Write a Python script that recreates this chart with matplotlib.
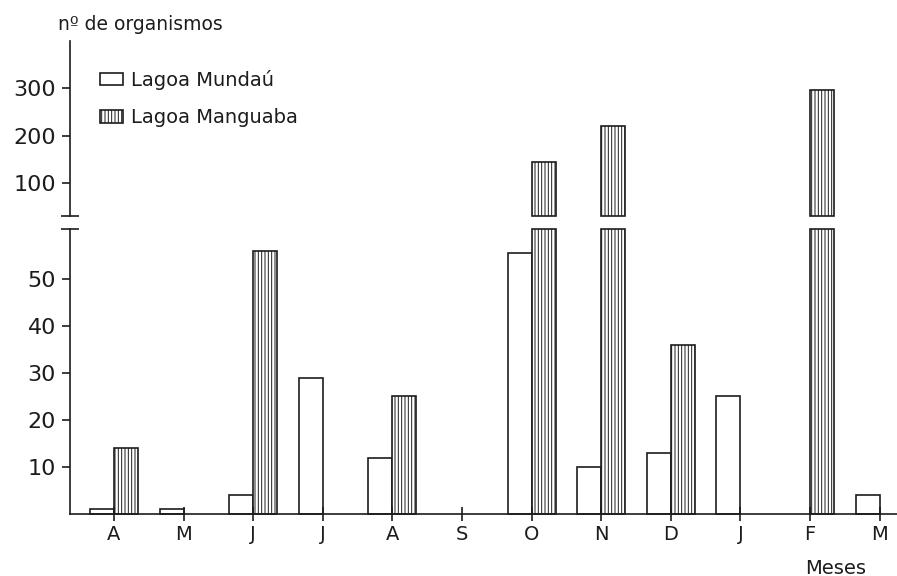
import numpy as np
import matplotlib
matplotlib.use("Agg")
import matplotlib.pyplot as plt

## Data
meses = ["A", "M", "J", "J", "A", "S", "O", "N", "D", "J", "F", "M"]
mundau = [1, 1, 4, 29, 12, 0, 55.5, 10, 13, 25, 0, 4]
manguaba = [14, 0, 56, 0, 25, 0, 145, 220, 36, 0, 295, 0]
ticks_baixo = [10, 20, 30, 40, 50]
ticks_cima = [100, 200, 300]

## Broken axis limits
lim_baixo = (0, 60.6)
lim_cima = (30.5, 399)

INK = "#1c1c1c"
plt.rcParams["hatch.linewidth"] = 0.7
plt.rcParams["hatch.color"] = INK
plt.rcParams["font.family"] = "DejaVu Sans"

W, H = 897, 576
fig = plt.figure(figsize=(W / 100, H / 100), dpi=100)
fig.patch.set_facecolor("white")

def fx(px):
    return px / W

def fy(py):
    return 1 - py / H

ax_lo = fig.add_axes([fx(70), fy(514), fx(897) - fx(70), fy(229) - fy(514)])
ax_hi = fig.add_axes([fx(70), fy(216), fx(897) - fx(70), fy(41) - fy(216)])

x = np.arange(len(meses))
w = 0.345
lw = 1.2

mu = np.array(mundau, dtype=float)
ma = np.array(manguaba, dtype=float)
tem_mu = mu > 0
tem_ma = ma > 0

## Lower part (months with no organisms get no bar)
ax_lo.bar(x[tem_mu] - w, mu[tem_mu], width=w, align="edge", facecolor="white",
          edgecolor=INK, linewidth=lw, label="Lagoa Mundaú", clip_on=False)
ax_lo.bar(x[tem_ma], np.minimum(ma[tem_ma], lim_baixo[1]), width=w,
          align="edge", facecolor="white", edgecolor=INK, linewidth=lw,
          hatch="|||||", label="Lagoa Manguaba", clip_on=False)

## Upper part, only for the values above the break
alto = ma > lim_baixo[1]
ax_hi.bar(x[alto], ma[alto] - lim_cima[0], bottom=lim_cima[0], width=w,
          align="edge", facecolor="white", edgecolor=INK, linewidth=lw,
          hatch="|||||", clip_on=False)

for ax in (ax_lo, ax_hi):
    ax.set_xlim(-0.632, 11.25)
    ax.set_facecolor("none")
    for s in ("top", "right"):
        ax.spines[s].set_visible(False)
    ax.spines["left"].set_color(INK)
    ax.spines["left"].set_linewidth(lw)
    ax.tick_params(axis="y", direction="out", length=6, width=lw,
                   color=INK, labelsize=16, labelcolor=INK, pad=4)

ax_lo.set_ylim(*lim_baixo)
ax_lo.set_yticks(ticks_baixo)
ax_lo.set_xticks(x)
ax_lo.set_xticklabels(meses)
ax_lo.spines["bottom"].set_color(INK)
ax_lo.spines["bottom"].set_linewidth(lw)
ax_lo.tick_params(axis="x", direction="inout", length=10, width=lw,
                  color=INK, labelsize=14, labelcolor=INK, pad=3)

ax_hi.set_ylim(*lim_cima)
ax_hi.set_yticks(ticks_cima)
ax_hi.spines["bottom"].set_visible(False)
ax_hi.set_xticks([])

## Caps at the break
ax_lo.plot([0], [1], marker="_", markersize=13, mew=lw, color=INK,
           transform=ax_lo.transAxes, clip_on=False)
ax_hi.plot([0], [0], marker="_", markersize=13, mew=lw, color=INK,
           transform=ax_hi.transAxes, clip_on=False)

## Legend
h, l = ax_lo.get_legend_handles_labels()
fig.legend(h, l, loc="upper left", bbox_to_anchor=(fx(100), fy(70)),
           frameon=False, fontsize=14, handlelength=1.2, handleheight=0.6,
           handletextpad=0.4, labelspacing=0.95, borderpad=0, borderaxespad=0,
           labelcolor=INK)

## Axis titles
fig.text(fx(58), fy(25), "nº de organismos", fontsize=13.5, color=INK,
         ha="left", va="center")
fig.text(fx(836), fy(568), "Meses", fontsize=14, color=INK,
         ha="center", va="center")

fig.savefig("out.png", dpi=100, facecolor="white")
